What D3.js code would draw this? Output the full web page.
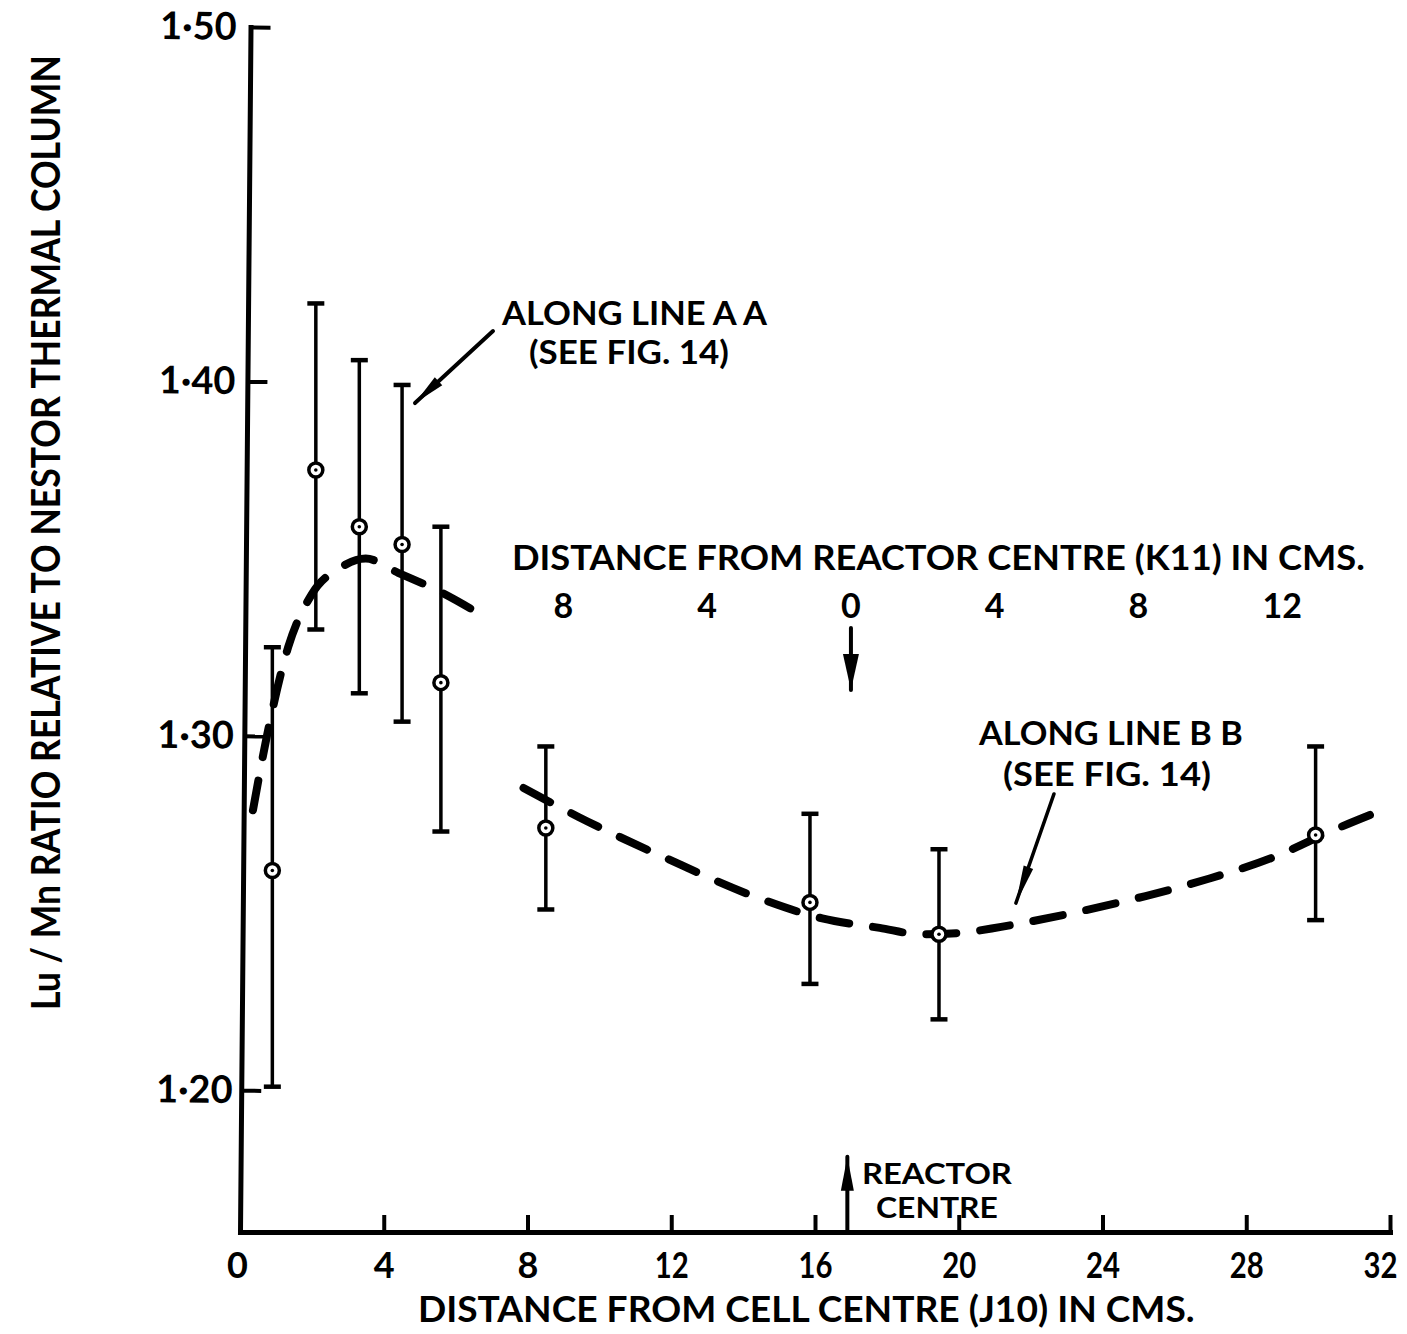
<!DOCTYPE html>
<html>
<head>
<meta charset="utf-8">
<script src="https://cdn.jsdelivr.net/npm/d3@7"></script>
<style>
  html, body { margin: 0; padding: 0; background: #fff; }
  svg { display: block; }
  text { font-family: Lato, "DejaVu Sans", sans-serif; font-weight: 700; fill: #000; }
</style>
</head>
<body>
<svg id="chart" width="1407" height="1334"></svg>
<script>
// Lu/Mn activation ratio measurements (distance from cell centre J10, cm)
const distance  = [0.90, 2.11, 3.32, 4.51, 5.59, 8.51, 15.86, 19.45, 29.93];
const ratio     = [1.262, 1.375, 1.359, 1.354, 1.315, 1.274, 1.253, 1.244, 1.272];
const ratioHigh = [1.325, 1.422, 1.406, 1.399, 1.359, 1.297, 1.278, 1.268, 1.297];
const ratioLow  = [1.201, 1.330, 1.312, 1.304, 1.273, 1.251, 1.230, 1.220, 1.248];

// Smoothed trend along line AA
const curveAAx = [0.36, 0.75, 1.34, 2.00, 2.80, 3.50, 4.40, 5.50, 6.90];
const curveAAy = [1.279, 1.300, 1.325, 1.340, 1.3475, 1.350, 1.346, 1.341, 1.333];

// Smoothed trend along line BB
const curveBBx = [7.89, 9.42, 11.85, 14.36, 16.20, 17.80, 18.95, 20.04, 21.18, 23.16, 25.20, 26.93, 28.77, 30.40, 31.92];
const curveBBy = [1.2853, 1.2771, 1.2655, 1.2545, 1.2485, 1.2458, 1.2440, 1.2444, 1.2461, 1.2500, 1.2548, 1.2596, 1.2658, 1.2733, 1.2796];

// Axis ticks
const xTicks = [0, 4, 8, 12, 16, 20, 24, 28, 32];
const yTicks = [1.20, 1.30, 1.40, 1.50];

// Secondary scale: distance from reactor centre (K11)
const reactorCentre = 17;
const reactorOffsets = [-8, -4, 0, 4, 8, 12];
const reactorLabels  = ["8", "4", "0", "4", "8", "12"];

const svg = d3.select("#chart");

const x = d3.scaleLinear().domain([0, 32]).range([240, 1390]);
const y = d3.scaleLinear().domain([1.16, 1.50]).range([1232, 27]);

const ink = "#000";
const font = "Lato, 'DejaVu Sans', sans-serif";
const axisTilt = 0.5; // degrees; the hand-drawn ordinate leans slightly

// Squeeze a text horizontally so it spans the given width
function fitText(sel, width, base) {
  const n = sel.node().getComputedTextLength();
  const k = width / n;
  sel.attr("transform", `${base} scale(${k},1)`);
}

// ---- trend curves (heavy dashes) ----
const trend = d3.line()
  .x(d => x(d[0]))
  .y(d => y(d[1]))
  .curve(d3.curveMonotoneX);

const dashStyle = g => g
  .attr("fill", "none")
  .attr("stroke", ink)
  .attr("stroke-width", 8)
  .attr("stroke-linecap", "round")
  .attr("stroke-dasharray", "30,24");

svg.append("path")
  .datum(d3.zip(curveAAx, curveAAy))
  .attr("d", trend)
  .call(dashStyle);

svg.append("path")
  .datum(d3.zip(curveBBx, curveBBy))
  .attr("d", trend)
  .call(dashStyle);

// ---- error bars ----
const points = distance.map((d, i) => ({ x: d, v: ratio[i], hi: ratioHigh[i], lo: ratioLow[i] }));
const capHalf = 8.5;

const bars = svg.append("g").attr("stroke", ink).attr("stroke-width", 3.5).attr("fill", "none");
bars.selectAll("line.stem").data(points).join("line")
  .attr("class", "stem")
  .attr("x1", d => x(d.x)).attr("x2", d => x(d.x))
  .attr("y1", d => y(d.hi)).attr("y2", d => y(d.lo));
bars.selectAll("line.capHi").data(points).join("line")
  .attr("class", "capHi")
  .attr("x1", d => x(d.x) - capHalf).attr("x2", d => x(d.x) + capHalf)
  .attr("y1", d => y(d.hi)).attr("y2", d => y(d.hi))
  .attr("stroke-width", 4.5);
bars.selectAll("line.capLo").data(points).join("line")
  .attr("class", "capLo")
  .attr("x1", d => x(d.x) - capHalf).attr("x2", d => x(d.x) + capHalf)
  .attr("y1", d => y(d.lo)).attr("y2", d => y(d.lo))
  .attr("stroke-width", 4.5);

// ---- measured points: open circles with centre dot ----
svg.append("g").selectAll("circle").data(points).join("circle")
  .attr("cx", d => x(d.x)).attr("cy", d => y(d.v))
  .attr("r", 7)
  .attr("fill", "#fff")
  .attr("stroke", ink)
  .attr("stroke-width", 3.5);
svg.append("g").selectAll("circle").data(points).join("circle")
  .attr("cx", d => x(d.x)).attr("cy", d => y(d.v))
  .attr("r", 1.8)
  .attr("fill", ink);

// ---- axes ----
const xAxis = d3.axisBottom(x)
  .tickValues(xTicks)
  .tickFormat(d3.format("d"))
  .tickSizeInner(-17)
  .tickSizeOuter(0)
  .tickPadding(20);

const gx = svg.append("g")
  .attr("transform", `translate(0,${y(1.16)})`)
  .call(xAxis);
gx.select(".domain").attr("stroke", ink).attr("stroke-width", 5).attr("stroke-linecap", "square");
gx.selectAll(".tick line").attr("stroke", ink).attr("stroke-width", 4);
gx.selectAll(".tick text")
  .attr("font-family", font)
  .attr("font-weight", 700)
  .attr("font-size", 36)
  .attr("fill", ink)
  .attr("dx", d => d === 0 ? -3 : (d === 32 ? -10 : 0))
  .each(function (d) {
    if (d >= 10) {
      const t = d3.select(this);
      const k = 34 / this.getComputedTextLength();
      t.attr("transform", `scale(${k},1)`).attr("dx", (d === 32 ? -10 : 0) / k);
    }
  });
gx.selectAll(".tick").filter(d => d === 0).select("line").remove();

const yAxis = d3.axisLeft(y)
  .tickValues(yTicks)
  .tickFormat(d => d3.format(".2f")(d).replace(".", "·"))
  .tickSizeInner(-20)
  .tickSizeOuter(0)
  .tickPadding(8);

const tiltShift = d => (y(1.16) - y(d)) * Math.tan(axisTilt * Math.PI / 180);
const gy = svg.append("g")
  .attr("transform", `translate(${x(0)},0) rotate(${axisTilt},0,${y(1.16)})`)
  .call(yAxis);
gy.select(".domain").attr("stroke", ink).attr("stroke-width", 5).attr("stroke-linecap", "square");
gy.selectAll(".tick line").attr("stroke", ink).attr("stroke-width", 4);
gy.selectAll(".tick text")
  .attr("font-family", font)
  .attr("font-weight", 700)
  .attr("font-size", 38)
  .attr("fill", ink)
  .attr("dx", d => -0.55 * tiltShift(d));

// ---- axis titles ----
const xTitle = svg.append("text")
  .attr("font-size", 36)
  .text("DISTANCE FROM CELL CENTRE (J10) IN CMS.");
fitText(xTitle, 777, "translate(418,1322)");

const yTitle = svg.append("text")
  .attr("font-size", 40)
  .text("Lu / Mn RATIO RELATIVE TO NESTOR THERMAL COLUMN");
fitText(yTitle, 955, "translate(60,1010) rotate(-90)");

// ---- secondary scale (reactor centre) ----
const rTitle = svg.append("text")
  .attr("font-size", 34)
  .text("DISTANCE FROM REACTOR CENTRE (K11) IN CMS.");
fitText(rTitle, 853, "translate(512,570)");

svg.append("g").selectAll("text").data(reactorOffsets).join("text")
  .attr("x", d => x(reactorCentre + d))
  .attr("y", 618)
  .attr("text-anchor", "middle")
  .attr("font-size", 34)
  .text((d, i) => reactorLabels[i]);

// ---- arrows ----
function arrowHead(x1, y1, x2, y2, len, half) {
  const dx = x2 - x1, dy = y2 - y1, L = Math.hypot(dx, dy);
  const ux = dx / L, uy = dy / L;
  const bx = x2 - ux * len, by = y2 - uy * len;
  const px = -uy * half, py = ux * half;
  return `M${x2},${y2}L${bx + px},${by + py}L${bx - px},${by - py}Z`;
}

function arrow(x1v, y1v, x2v, y2v, width, len, half) {
  const X1 = x(x1v), Y1 = y(y1v), X2 = x(x2v), Y2 = y(y2v);
  svg.append("line")
    .attr("x1", X1).attr("y1", Y1).attr("x2", X2).attr("y2", Y2)
    .attr("stroke", ink).attr("stroke-width", width).attr("stroke-linecap", "round");
  svg.append("path")
    .attr("d", arrowHead(X1, Y1, X2, Y2, len, half))
    .attr("fill", ink);
}

// leader to curve AA
arrow(7.04, 1.4142, 4.87, 1.3939, 4, 32, 5.5);
// leader to curve BB
arrow(22.65, 1.2836, 21.59, 1.2528, 3.5, 38, 5);
// reactor centre marker on secondary scale
arrow(reactorCentre, 1.3304, reactorCentre, 1.3129, 4, 36, 8);
// reactor centre marker on x axis
arrow(16.9, 1.16, 16.9, 1.1812, 4, 34, 6.5);

// ---- annotations ----
const notes = [
  { t: "ALONG LINE A A", x: 502, y: 325, w: 265, fs: 33 },
  { t: "(SEE FIG. 14)", x: 529, y: 364, w: 200, fs: 33 },
  { t: "ALONG LINE B B", x: 979, y: 745, w: 264, fs: 33 },
  { t: "(SEE FIG. 14)", x: 1003, y: 786, w: 208, fs: 33 },
  { t: "REACTOR", x: 862, y: 1184, w: 150, fs: 28 },
  { t: "CENTRE", x: 876, y: 1218, w: 122, fs: 28 }
];
svg.append("g").selectAll("text").data(notes).join("text")
  .attr("font-size", d => d.fs)
  .text(d => d.t)
  .each(function (d) { fitText(d3.select(this), d.w, `translate(${d.x},${d.y})`); });
</script>
</body>
</html>
